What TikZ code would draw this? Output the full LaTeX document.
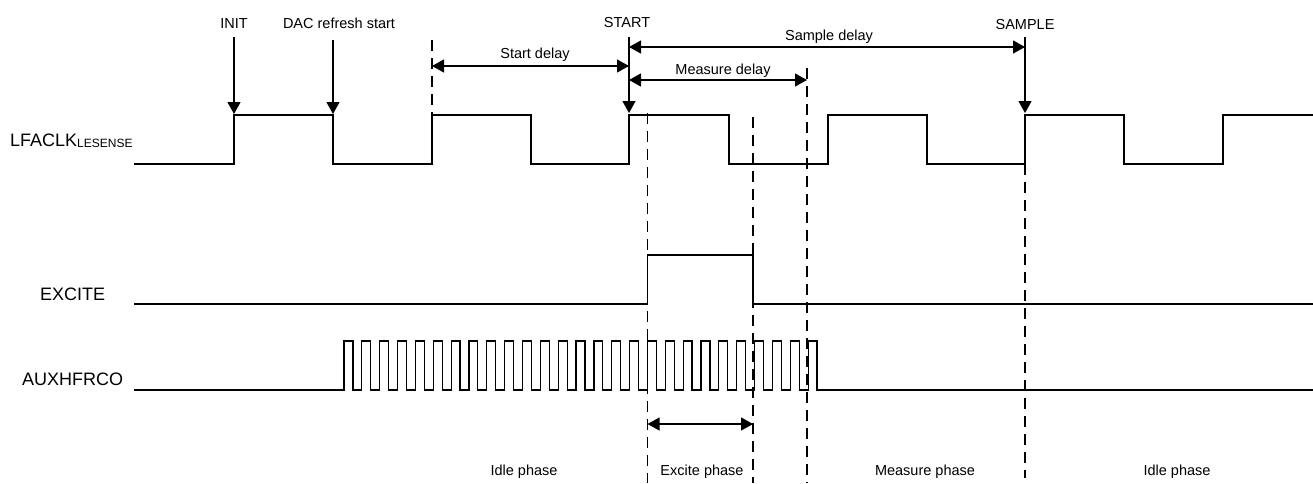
\documentclass[tikz,border=0pt]{standalone}
\usepackage{fontspec}
\setmainfont{Liberation Sans}
\usetikzlibrary{arrows.meta}
\begin{document}
\begin{tikzpicture}[x=1pt,y=-1pt,
  sig/.style={line width=1.2pt, line join=miter},
  guide/.style={line width=1.2pt, dash pattern=on 11pt off 7pt},
  evt/.style={line width=1.2pt, -{Triangle[length=12pt,width=13pt]}},
  span/.style={line width=1.2pt, {Triangle[length=12pt,width=13pt]}-{Triangle[length=12pt,width=13pt]}},
  lbl/.style={font=\fontsize{14.5}{15}\selectfont, inner sep=0pt, anchor=base},
  siglbl/.style={font=\fontsize{18}{18}\selectfont, inner sep=0pt, anchor=base west}]
\useasboundingbox (0,0) rectangle (1313,483);

% signal labels
\node[siglbl] (lfa) at (10,146) {LFACLK{\fontsize{12}{12}\selectfont\raisebox{-1.5pt}{LESENSE}}};
\node[siglbl] (exc) at (40,300) {EXCITE};
\node[siglbl] (aux) at (22,385) {AUXHFRCO};

% LFACLK waveform
\draw[sig] (134,164) -- (234,164) -- (234,115) -- (333,115) -- (333,164) -- (432,164) -- (432,115)
  -- (531,115) -- (531,164) -- (629,164) -- (629,115) -- (729,115) -- (729,164) -- (828,164)
  -- (828,115) -- (927,115) -- (927,164) -- (1025,164) -- (1025,115) -- (1124,115) -- (1124,164)
  -- (1223,164) -- (1223,115) -- (1313,115);

% EXCITE waveform
\draw[sig] (134,304) -- (647.5,304) -- (647.5,255) -- (753,255) -- (753,304) -- (1313,304);

% AUXHFRCO waveform
\draw[sig] (134,390) foreach \i in {0,...,26} { -- ({344+17.85*\i},390) -- ({344+17.85*\i},341)
  -- ({352.9+17.85*\i},341) -- ({352.9+17.85*\i},390) } -- (1313,390);

% dashed guides
\coordinate (g1t) at (432,40);   \coordinate (g1b) at (432,115);
\coordinate (g2t) at (647.5,113); \coordinate (g2b) at (647.5,483);
\coordinate (g3t) at (753,117);  \coordinate (g3b) at (753,483);
\coordinate (g4t) at (807,68);   \coordinate (g4b) at (807,483);
\coordinate (g5t) at (1025,164); \coordinate (g5b) at (1025,478);
\draw[guide] (g1t) -- (g1b);
\draw[guide] (g2t) -- (g2b);
\draw[guide] (g3t) -- (g3b);
\draw[guide] (g4t) -- (g4b);
\draw[guide] (g5t) -- (g5b);

% event labels and arrows
\node[lbl] (init) at (234,28) {INIT};
\node[lbl] (dac) at (339,28) {DAC refresh start};
\node[lbl] (start) at (627,27) {START};
\node[lbl] (sample) at (1025,29) {SAMPLE};
\coordinate (initA) at (234,37);  \coordinate (initB) at (234,114);
\coordinate (dacA) at (333,40);   \coordinate (dacB) at (333,114);
\coordinate (startA) at (629,37); \coordinate (startB) at (629,113);
\coordinate (sampA) at (1025,37); \coordinate (sampB) at (1025,113);
\draw[evt] (initA) -- (initB);
\draw[evt] (dacA) -- (dacB);
\draw[evt] (startA) -- (startB);
\draw[evt] (sampA) -- (sampB);

% delay spans
\coordinate (sdL) at (432,66);  \coordinate (sdR) at (629,66);
\coordinate (spL) at (629,47);  \coordinate (spR) at (1025,47);
\coordinate (mdL) at (629,80);  \coordinate (mdR) at (807,80);
\coordinate (exL) at (647.5,424); \coordinate (exR) at (753,424);
\draw[span] (sdL) -- (sdR);
\draw[span] (spL) -- (spR);
\draw[span] (mdL) -- (mdR);
\draw[span] (exL) -- (exR);
\node[lbl] (sdl) at (535,58) {Start delay};
\node[lbl] (spl) at (829,40) {Sample delay};
\node[lbl] (mdl) at (723,74) {Measure delay};

% phase labels
\node[lbl] (ph1) at (524,475) {Idle phase};
\node[lbl] (ph2) at (702,475) {Excite phase};
\node[lbl] (ph3) at (925,475) {Measure phase};
\node[lbl] (ph4) at (1177,475) {Idle phase};
\end{tikzpicture}
\end{document}
